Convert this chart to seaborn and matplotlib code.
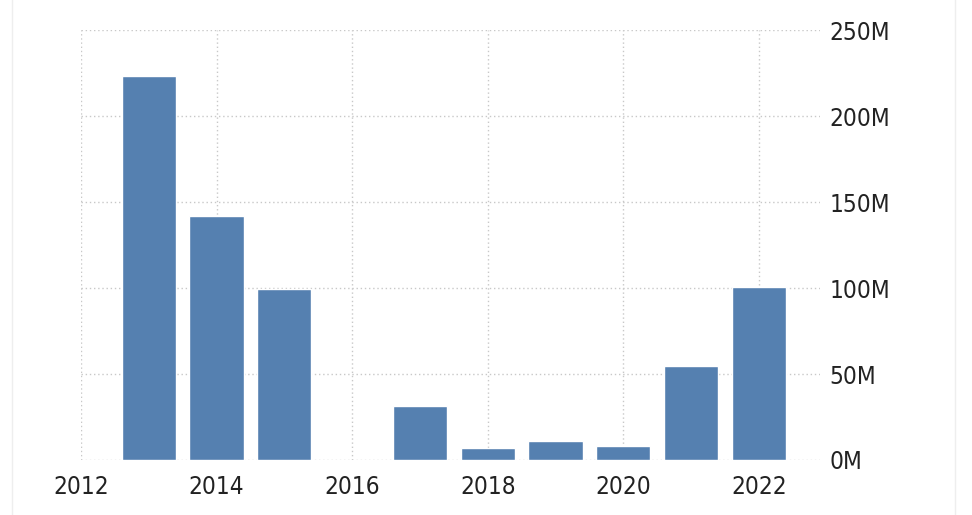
import matplotlib
matplotlib.use("Agg")
import matplotlib.pyplot as plt
import matplotlib.ticker as mticker
import seaborn as sns
import pandas as pd

# values (2016 has no bar)
years = [2013, 2014, 2015, 2017, 2018, 2019, 2020, 2021, 2022]
values = [223e6, 142e6, 99.5e6, 31.5e6, 7e6, 11e6, 8e6, 54.5e6, 100.5e6]
x_ticks = [2012, 2014, 2016, 2018, 2020, 2022]
y_ticks = [0, 50e6, 100e6, 150e6, 200e6, 250e6]

df = pd.DataFrame({"year": years, "value": values})

sns.set_style("white")
plt.rcParams['font.family'] = ['DejaVu Sans']
plt.rcParams['font.stretch'] = 'condensed'

fig = plt.figure(figsize=(9.72, 5.15), dpi=100)
ax = fig.add_axes([0.0833, 0.1068, 0.7603, 0.8349])

sns.barplot(data=df, x="year", y="value", native_scale=True, width=0.8,
            color="#5580b0", saturation=1, ax=ax, zorder=3)

ax.set_xlim(2012, 2022.9)
ax.set_ylim(0, 250e6)
ax.set_xticks(x_ticks)
ax.set_yticks(y_ticks)
ax.yaxis.set_major_formatter(mticker.FuncFormatter(lambda v, p: f"{v/1e6:.0f}M"))
ax.yaxis.tick_right()
ax.set_xlabel("")
ax.set_ylabel("")
ax.grid(True, linestyle=(0, (1, 2)), color="#c8c8c8", linewidth=1, zorder=0)
ax.set_axisbelow(True)
for s in ax.spines.values():
    s.set_visible(False)
ax.tick_params(axis="both", length=0, labelsize=17.5, colors="#222222")
ax.tick_params(axis="y", pad=7)
ax.tick_params(axis="x", pad=11)

# faint page border
fig.patches.append(plt.Rectangle((12/972, -0.01), (955-12)/972, 1.02,
                                 transform=fig.transFigure, fill=False,
                                 edgecolor="#eeeeee", linewidth=1))

fig.savefig("out.png", dpi=100)
